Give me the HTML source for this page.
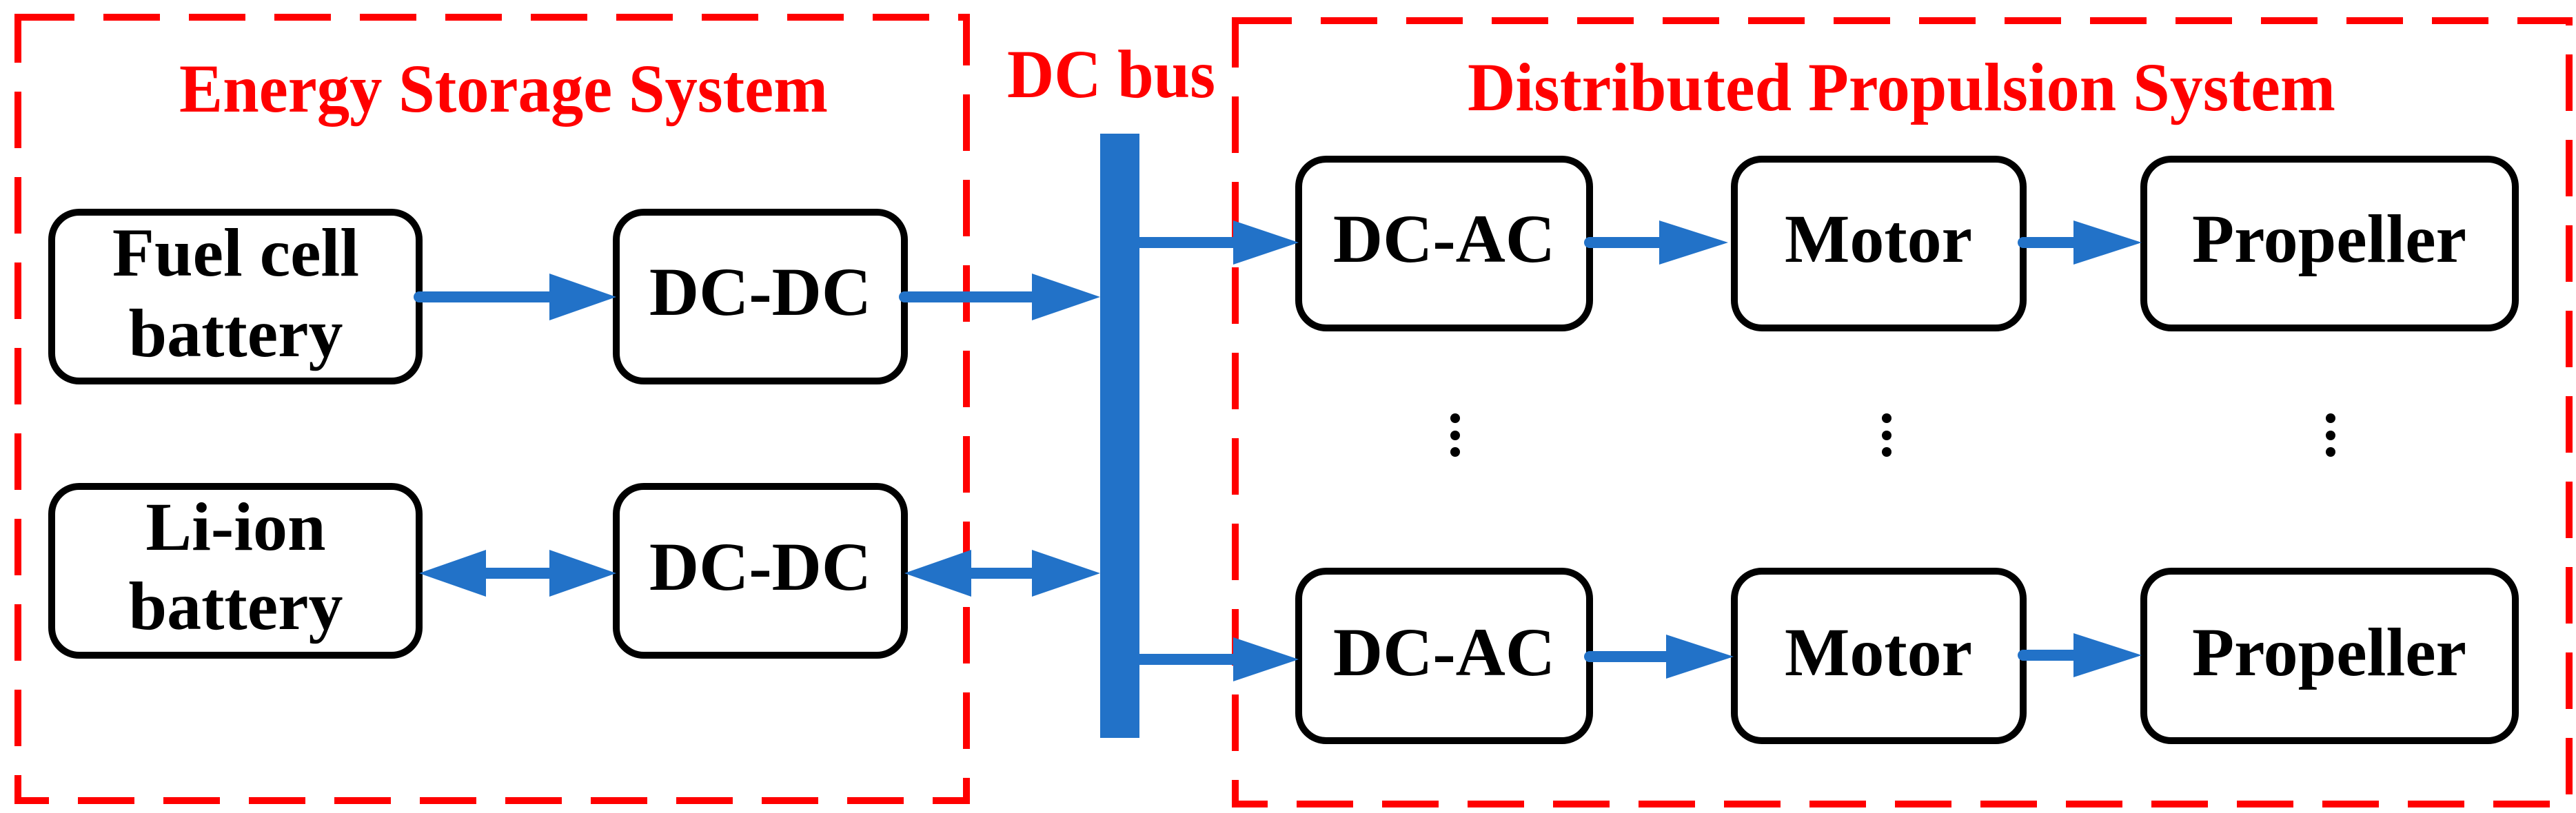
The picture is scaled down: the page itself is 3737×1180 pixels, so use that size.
<!DOCTYPE html>
<html><head><meta charset="utf-8"><style>html,body{margin:0;padding:0;background:#fff}svg{display:block}</style></head>
<body>
<svg width="3737" height="1180" viewBox="0 0 3737 1180" xmlns="http://www.w3.org/2000/svg">
<g fill="none" stroke="#ff0000" stroke-width="10" stroke-dasharray="82 42">
<rect x="26" y="25" width="1376" height="1137"/>
<rect x="1792" y="30" width="1935" height="1137"/>
</g>
<g font-family="Liberation Serif, serif" font-weight="bold" font-size="100" fill="#ff0000">
<text x="260" y="162" textLength="941" lengthAdjust="spacingAndGlyphs">Energy Storage System</text>
<text x="1461" y="141" textLength="302" lengthAdjust="spacingAndGlyphs">DC bus</text>
<text x="2129" y="160" textLength="1259" lengthAdjust="spacingAndGlyphs">Distributed Propulsion System</text>
</g>
<rect x="1596" y="194" width="57" height="877" fill="#2272c8"/>
<g fill="none" stroke="#000" stroke-width="10">
<rect x="75" y="308" width="533" height="245" rx="40"/>
<rect x="894" y="308" width="418" height="245" rx="40"/>
<rect x="75" y="706" width="533" height="245" rx="40"/>
<rect x="894" y="706" width="418" height="245" rx="40"/>
<rect x="1884" y="231" width="422" height="245" rx="40"/>
<rect x="2516" y="231" width="419" height="245" rx="40"/>
<rect x="3110" y="231" width="539" height="245" rx="40"/>
<rect x="1884" y="829" width="422" height="246" rx="40"/>
<rect x="2516" y="829" width="419" height="246" rx="40"/>
<rect x="3110" y="829" width="539" height="246" rx="40"/>
</g>
<g stroke="#2272c8" stroke-width="16" stroke-linecap="round">
<line x1="608" y1="431" x2="800" y2="431"/>
<line x1="1312" y1="431" x2="1500" y2="431"/>
<line x1="700" y1="832" x2="800" y2="832"/>
<line x1="1405" y1="832" x2="1500" y2="832"/>
<line x1="1653" y1="352" x2="1792" y2="352" stroke-linecap="butt"/>
<line x1="1653" y1="957" x2="1792" y2="957" stroke-linecap="butt"/>
<line x1="2306" y1="352" x2="2410" y2="352"/>
<line x1="2935" y1="352" x2="3010" y2="352"/>
<line x1="2306" y1="953" x2="2420" y2="953"/>
<line x1="2935" y1="951" x2="3010" y2="951"/>
</g>
<g fill="#2272c8">
<polygon points="797,397 894,431 797,465"/>
<polygon points="1497,397 1596,431 1497,465"/>
<polygon points="797,798 894,832 797,866"/>
<polygon points="705,798 608,832 705,866"/>
<polygon points="1497,798 1596,832 1497,866"/>
<polygon points="1409,798 1312,832 1409,866"/>
<polygon points="1789,320 1884,352 1789,384"/>
<polygon points="1789,925 1884,957 1789,989"/>
<polygon points="2407,320 2507,352 2407,384"/>
<polygon points="3008,320 3107,352 3008,384"/>
<polygon points="2417,921 2515,953 2417,985"/>
<polygon points="3008,919 3107,951 3008,983"/>
</g>
<g fill="#000">
<circle cx="2111" cy="607" r="7"/><circle cx="2111" cy="632" r="7"/><circle cx="2111" cy="656" r="7"/>
<circle cx="2737" cy="607" r="7"/><circle cx="2737" cy="632" r="7"/><circle cx="2737" cy="656" r="7"/>
<circle cx="3381" cy="607" r="7"/><circle cx="3381" cy="632" r="7"/><circle cx="3381" cy="656" r="7"/>
</g>
<g font-family="Liberation Serif, serif" font-weight="bold" font-size="100" fill="#000" text-anchor="middle">
<text x="342" y="400">Fuel cell</text>
<text x="342" y="517">battery</text>
<text x="342" y="798">Li-ion</text>
<text x="342" y="913">battery</text>
<text x="1103" y="457">DC-DC</text>
<text x="1103" y="856">DC-DC</text>
<text x="2095" y="380">DC-AC</text>
<text x="2725" y="380">Motor</text>
<text x="3379" y="380">Propeller</text>
<text x="2095" y="980">DC-AC</text>
<text x="2725" y="980">Motor</text>
<text x="3379" y="980">Propeller</text>
</g>
</svg>
</body></html>
